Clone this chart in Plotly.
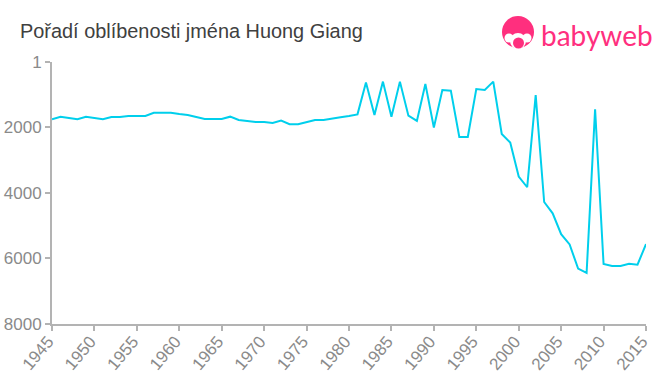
import plotly.graph_objects as go

title = "Pořadí oblíbenosti jména Huong Giang"
brand = "babyweb"
years = list(range(1945, 2016))
ranks = [1750, 1670, 1710, 1750, 1670, 1710, 1750, 1680, 1680, 1650,
         1650, 1650, 1550, 1550, 1550, 1590, 1620, 1680, 1740, 1740,
         1740, 1670, 1770, 1800, 1830, 1830, 1860, 1790, 1900, 1900,
         1830, 1770, 1770, 1740, 1690, 1650, 1600, 630, 1620, 600,
         1670, 600, 1640, 1800, 670, 2000, 855, 875, 2290, 2290,
         825, 855, 600, 2200, 2460, 3500, 3825, 1010, 4275, 4620,
         5260, 5570, 6310, 6440, 1445, 6170, 6230, 6230, 6160, 6190,
         5560]
x_ticks = list(range(1945, 2016, 5))
y_ticks = [1, 2000, 4000, 6000, 8000]

PINK = "#ff2f7e"
FONT = "Liberation Sans, Arial, sans-serif"
AXIS = "#b3b3b3"
TICK = "#8a8a8a"

fig = go.Figure(go.Scatter(x=years, y=ranks, mode="lines", cliponaxis=False,
                           line=dict(color="#00cfec", width=2), hoverinfo="skip"))


def circle(cx, cy, r, color):
    return dict(type="circle", xref="paper", yref="paper", layer="above",
                x0=(cx - r - 52) / 594, x1=(cx + r - 52) / 594,
                y0=(324 - cy - r) / 262, y1=(324 - cy + r) / 262,
                fillcolor=color, line_width=0)


fig.update_layout(
    width=660, height=375, autosize=False,
    margin=dict(l=52, r=14, t=62, b=51),
    paper_bgcolor="white", plot_bgcolor="white",
    showlegend=False,
    font=dict(family=FONT, color=TICK),
    xaxis=dict(range=[1945, 2015], tickmode="array", tickvals=x_ticks,
               ticktext=[str(v) for v in x_ticks], tickangle=-50, automargin=False,
               ticklabelstandoff=-6, ticklabelshift=-4,
               showgrid=False, zeroline=False, showline=True, linecolor=AXIS,
               linewidth=2, ticks="outside", ticklen=5, tickwidth=2, tickcolor=AXIS,
               tickfont=dict(size=17, color=TICK)),
    yaxis=dict(range=[8000, 1], tickmode="array", tickvals=y_ticks,
               ticktext=[str(v) for v in y_ticks], automargin=False,
               showgrid=False, zeroline=False, showline=True, linecolor=AXIS,
               linewidth=2, ticks="outside", ticklen=5, tickwidth=2, tickcolor=AXIS,
               tickfont=dict(size=17, color=TICK)),
    annotations=[
        dict(text=title, xref="paper", yref="paper", x=(20 - 52) / 594, y=(324 - 31) / 262,
             xanchor="left", yanchor="middle", showarrow=False, xshift=-2,
             font=dict(size=19.9, color="#404040", family=FONT)),
        dict(text=brand, xref="paper", yref="paper", x=(539 - 52) / 594, y=(324 - 35) / 262,
             xanchor="left", yanchor="middle", showarrow=False,
             font=dict(size=28, color=PINK, family="Lato, sans-serif")),
    ],
    shapes=[
        circle(518, 32, 16, PINK),
        circle(509, 38, 4.5, "white"),
        circle(527, 38, 4.5, "white"),
        circle(518, 41, 8, "white"),
        circle(518.5, 43, 5.5, PINK),
    ],
)
fig.write_html("out.html", config={"displayModeBar": False},
               post_script="document.body.style.margin='0';")
